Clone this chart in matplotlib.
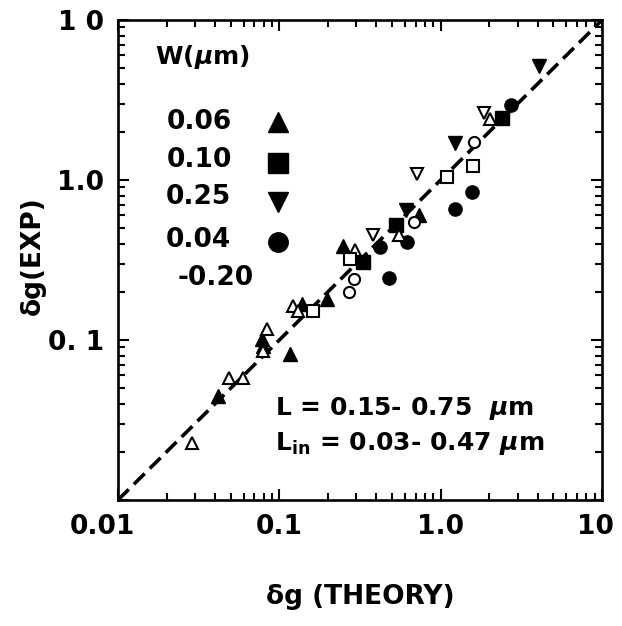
import matplotlib
matplotlib.use("Agg")
import matplotlib.pyplot as plt
from matplotlib.transforms import ScaledTranslation
from matplotlib.ticker import LogLocator, NullFormatter

plt.rcParams['font.family'] = ['DejaVu Sans']
plt.rcParams['font.weight'] = 'bold'
plt.rcParams['axes.labelweight'] = 'bold'
plt.rcParams['mathtext.fontset'] = 'custom'
plt.rcParams['mathtext.rm'] = 'DejaVu Sans:bold'
plt.rcParams['mathtext.it'] = 'DejaVu Sans:italic:bold'
plt.rcParams['mathtext.bf'] = 'DejaVu Sans:bold'
plt.rcParams['mathtext.default'] = 'it'

# ---- data ----
open_up_x = [0.0288, 0.0488, 0.0596, 0.0839, 0.0793, 0.1216, 0.1306, 0.2946, 0.552, 2.02]
open_up_y = [0.0228, 0.058, 0.058, 0.1177, 0.0857, 0.164, 0.1526, 0.367, 0.456, 2.39]
fill_up_x = [0.0417, 0.0781, 0.0793, 0.1165, 0.138, 0.1977, 0.248, 0.735]
fill_up_y = [0.0448, 0.1019, 0.092, 0.082, 0.169, 0.181, 0.389, 0.600]
open_sq_x = [0.162, 0.274, 1.096, 1.588]
open_sq_y = [0.1526, 0.323, 1.038, 1.217]
fill_sq_x = [0.330, 0.529, 2.40]
fill_sq_y = [0.309, 0.527, 2.43]
open_dn_x = [0.381, 0.714, 1.86]
open_dn_y = [0.456, 1.085, 2.61]
fill_dn_x = [0.610, 1.228, 4.07]
fill_dn_y = [0.645, 1.694, 5.14]
fill_ci_x = [0.421, 0.479, 0.619, 1.228, 1.566, 2.73]
fill_ci_y = [0.384, 0.245, 0.407, 0.655, 0.836, 2.93]
open_ci_x = [0.270, 0.290, 0.684, 1.61]
open_ci_y = [0.2006, 0.242, 0.543, 1.72]

line_x = [0.01, 10]
x_ticks = [0.01, 0.1, 1.0, 10]
x_ticklabels = ["0.01", "0.1", "1.0", "10"]
y_ticks = [0.01, 0.1, 1.0, 10]
y_ticklabels = ["", "0. 1", "1.0", "1 0"]
legend_labels = ["0.06", "0.10", "0.25", "0.04", "-0.20"]
legend_markers = ["^", "s", "v", "o"]

# ---- figure ----
fig = plt.figure(figsize=(6.22, 6.26), dpi=100)
ax = fig.add_axes([118/622, 1-500/626, 484/622, 480/626])
ax.set_xscale('log')
ax.set_yscale('log')
ax.set_xlim(0.01, 10)
ax.set_ylim(0.01, 10)

ax.plot(line_x, line_x, color='black', lw=2.6, dashes=(4.2, 2), zorder=2)

fs = 9.5
os_ = 8.0
mew = 1.5
ax.plot(fill_up_x, fill_up_y, '^', color='black', ms=fs, ls='none', zorder=3)
ax.plot(fill_sq_x, fill_sq_y, 's', color='black', ms=fs, ls='none', zorder=3)
ax.plot(fill_dn_x, fill_dn_y, 'v', color='black', ms=fs, ls='none', zorder=3)
ax.plot(fill_ci_x, fill_ci_y, 'o', color='black', ms=fs, ls='none', zorder=3)
ax.plot(open_up_x, open_up_y, '^', mfc='white', mec='black', mew=mew, ms=os_, ls='none', zorder=4)
ax.plot(open_sq_x, open_sq_y, 's', mfc='white', mec='black', mew=mew, ms=os_, ls='none', zorder=4)
ax.plot(open_dn_x, open_dn_y, 'v', mfc='white', mec='black', mew=mew, ms=os_, ls='none', zorder=4)
ax.plot(open_ci_x, open_ci_y, 'o', mfc='white', mec='black', mew=mew, ms=os_, ls='none', zorder=4)

# ticks
for sp in ax.spines.values():
    sp.set_linewidth(1.9)
ax.tick_params(which='both', direction='in', top=True, right=True, width=1.5, colors='black')
ax.tick_params(which='major', length=8)
ax.tick_params(which='minor', length=5)
ax.tick_params(axis='both', which='major', labelsize=19, pad=10)
ax.xaxis.set_minor_locator(LogLocator(base=10, subs=range(2, 10)))
ax.yaxis.set_minor_locator(LogLocator(base=10, subs=range(2, 10)))
ax.xaxis.set_minor_formatter(NullFormatter())
ax.yaxis.set_minor_formatter(NullFormatter())
ax.set_xticks(x_ticks)
ax.set_xticklabels(x_ticklabels)
ax.set_yticks(y_ticks)
ax.set_yticklabels(y_ticklabels)

xl = ax.get_xticklabels()
xl[0].set_transform(xl[0].get_transform() + ScaledTranslation(-0.16, 0, fig.dpi_scale_trans))
xl[-1].set_transform(xl[-1].get_transform() + ScaledTranslation(-0.07, 0, fig.dpi_scale_trans))

ax.set_xlabel("δg (THEORY)", fontsize=19, fontweight='bold')
ax.xaxis.set_label_coords(0.5, -0.175)
ax.set_ylabel("δg(EXP)", fontsize=19, fontweight='bold')
ax.yaxis.set_label_coords(-0.15, 0.51)

# legend (drawn as text + markers)
ax.text(0.076, 0.923, r"W($\mu$m)", transform=ax.transAxes, fontsize=18, va='center', ha='left')
lab_x = [0.101, 0.101, 0.098, 0.098, 0.124]
lab_y = [0.7875, 0.708, 0.631, 0.542, 0.4625]
mk_y = [0.7875, 0.702, 0.620, 0.537]
for lx, ly, t in zip(lab_x, lab_y, legend_labels):
    ax.text(lx, ly, t, transform=ax.transAxes, fontsize=19, va='center', ha='left')
for m, my in zip(legend_markers, mk_y):
    ax.plot([0.3305], [my], m, color='black', ms=14, transform=ax.transAxes, clip_on=False)

ax.text(0.324, 0.177, r"L = 0.15- 0.75  $\mu$m", transform=ax.transAxes, fontsize=18,
        va='baseline', ha='left')
ax.text(0.324, 0.104, r"L$_{\mathrm{in}}$ = 0.03- 0.47 $\mu$m", transform=ax.transAxes, fontsize=18,
        va='baseline', ha='left')

fig.savefig("out.png", dpi=100)
